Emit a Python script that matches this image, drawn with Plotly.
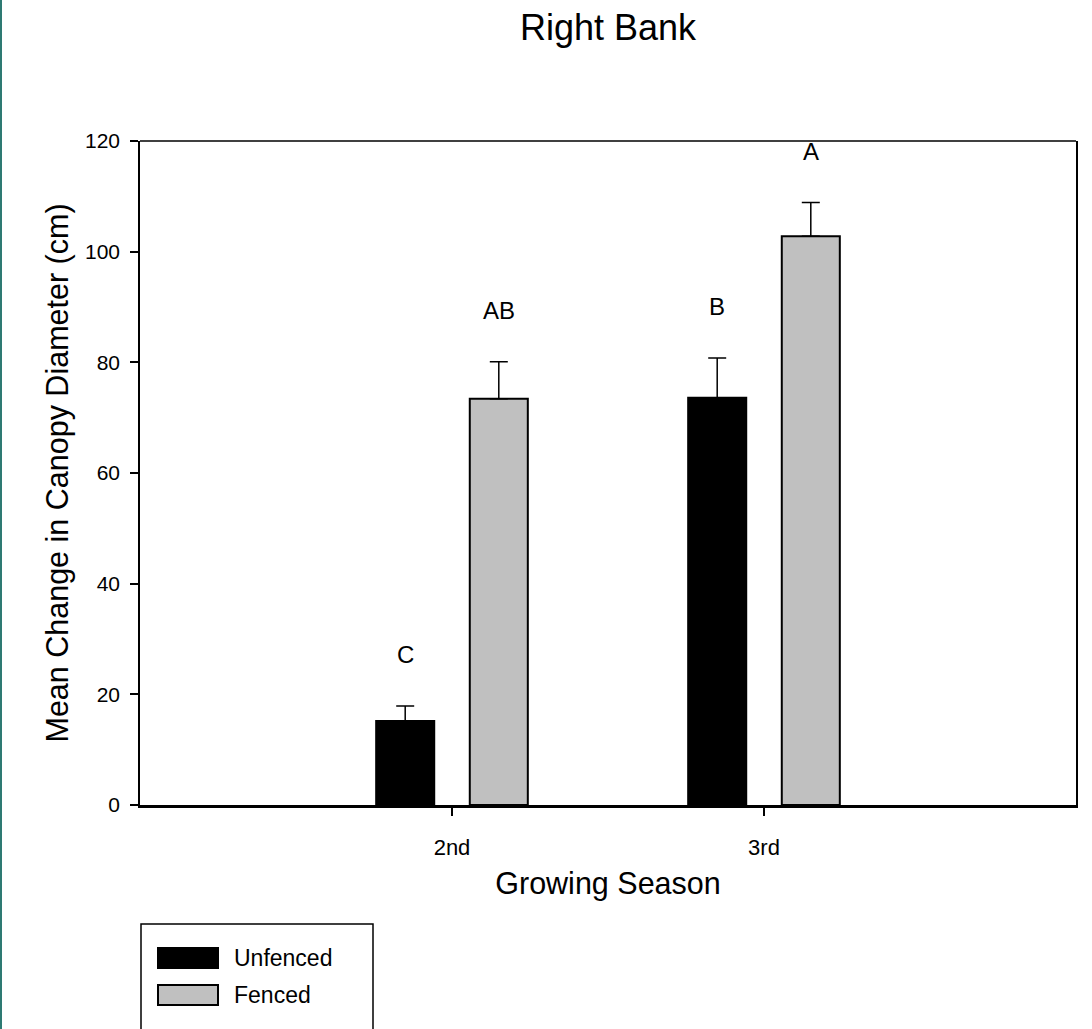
import plotly.graph_objects as go

# ---- data ----
categories = ["2nd", "3rd"]
series_names = ["Unfenced", "Fenced"]
unfenced_mean = [15.2, 73.6]
unfenced_err = [2.7, 7.2]
fenced_mean = [73.4, 102.8]
fenced_err = [6.7, 6.1]
unfenced_letters = ["C", "B"]
fenced_letters = ["AB", "A"]
y_ticks = [0, 20, 40, 60, 80, 100, 120]

FONT = "Arial, Liberation Sans, sans-serif"
colors = ["#000000", "#c0c0c0"]

W, H = 1092, 1029
L, R, T, B = 140, 16, 141, 224
pw, ph = W - L - R, H - T - B


def px(x):
    return (x - L) / pw


def py(y):
    return (H - B - y) / ph


fig = go.Figure()
for name, mean, err, col in [
    (series_names[0], unfenced_mean, unfenced_err, colors[0]),
    (series_names[1], fenced_mean, fenced_err, colors[1]),
]:
    fig.add_trace(go.Bar(
        x=categories, y=mean, name=name,
        marker=dict(color=col, line=dict(color="black", width=2)),
        error_y=dict(type="data", symmetric=False, array=err,
                     arrayminus=[0] * len(err), color="black",
                     thickness=1.5, width=9),
        showlegend=False,
    ))

# significance letters above error bars
annotations = []
offset = 0.15
for letters, mean, err, sign in [
    (unfenced_letters, unfenced_mean, unfenced_err, -1),
    (fenced_letters, fenced_mean, fenced_err, 1),
]:
    for i, (lt, m, e) in enumerate(zip(letters, mean, err)):
        annotations.append(dict(
            x=i + sign * offset, y=m + e, xref="x", yref="y",
            text=lt, showarrow=False, yanchor="middle", yshift=51,
            font=dict(family=FONT, size=24, color="black"),
        ))

# frame + decorations + manual legend (wide swatches)
shapes = [
    dict(type="line", xref="paper", yref="paper", x0=0, x1=1, y0=1, y1=1,
         line=dict(color="black", width=1.5)),
    dict(type="line", xref="paper", yref="paper", x0=px(1), x1=px(1),
         y0=py(0), y1=py(H), line=dict(color="#2e7a73", width=2)),
    dict(type="rect", xref="paper", yref="paper", x0=px(141), x1=px(373),
         y0=py(924), y1=py(1035), line=dict(color="black", width=1.5),
         fillcolor="rgba(0,0,0,0)"),
]
legend_rows = [958, 995]
for name, col, yc in zip(series_names, colors, legend_rows):
    shapes.append(dict(type="rect", xref="paper", yref="paper",
                       x0=px(158), x1=px(218), y0=py(yc - 10), y1=py(yc + 10),
                       fillcolor=col, line=dict(color="black", width=2)))
    annotations.append(dict(x=px(232), y=py(yc), xref="paper", yref="paper",
                            text=name, showarrow=False, xanchor="left",
                            yanchor="middle",
                            font=dict(family=FONT, size=23, color="black")))

fig.update_layout(
    width=W, height=H,
    margin=dict(l=L, r=R, t=T, b=B, autoexpand=False),
    paper_bgcolor="white", plot_bgcolor="white",
    barmode="group", bargap=0.4, bargroupgap=0.38,
    title=dict(text="Right Bank", xref="paper", x=0.5, xanchor="center",
               yref="container", y=1 - 27 / H, yanchor="middle",
               font=dict(family=FONT, size=36, color="black")),
    font=dict(family=FONT, color="black"),
    annotations=annotations,
    shapes=shapes,
)
fig.update_xaxes(
    type="category", range=[-1, 2],
    showline=True, linecolor="black", linewidth=3, mirror=False,
    ticks="outside", ticklen=8, tickwidth=1.5, tickcolor="black",
    tickfont=dict(family=FONT, size=22, color="black"),
    ticklabelstandoff=13,
    showgrid=False, zeroline=False,
    title=dict(text="Growing Season", standoff=14,
               font=dict(family=FONT, size=30.5, color="black")),
)
fig.update_yaxes(
    range=[0, 120], tickvals=y_ticks,
    showline=True, linecolor="black", linewidth=1.5, mirror=True,
    ticks="outside", ticklen=8, tickwidth=1.5, tickcolor="black",
    tickfont=dict(family=FONT, size=21, color="black"),
    ticklabelstandoff=6,
    showgrid=False, zeroline=False,
    title=dict(text="Mean Change in Canopy Diameter (cm)", standoff=7,
               font=dict(family=FONT, size=30.5, color="black")),
)

fig.write_html("out.html", config={"displayModeBar": False},
               post_script="document.body.style.margin='0';")
